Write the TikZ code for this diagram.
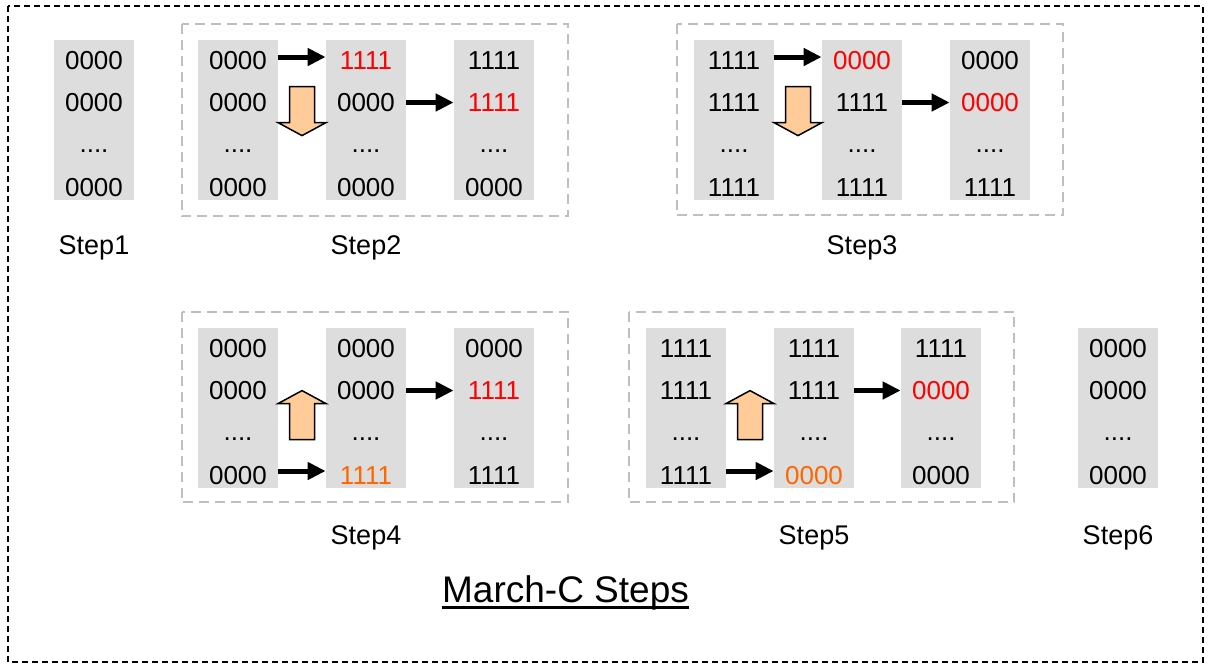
\documentclass[tikz,border=0pt]{standalone}
\usepackage{fontspec}
\setmainfont{Liberation Sans}
\usetikzlibrary{arrows.meta,calc}

\definecolor{cellgray}{HTML}{DDDDDD}
\definecolor{boxgray}{HTML}{BFBFBF}
\definecolor{arrowfill}{HTML}{FFCC99}
\definecolor{wred}{HTML}{FF0000}
\definecolor{worange}{HTML}{FF6600}

% one memory column: name, x, y, first row, second row, last row
\newcommand\memcol[6]{%
  \node[memcell] (#1) at (#2,#3) {};
  \node[celltext] (#1r1) at ($(#1)+(0,-59.5)$) {#4};
  \node[celltext] (#1r2) at ($(#1)+(0,-17.5)$) {#5};
  \node[celltext] (#1r3) at ($(#1)+(0,31)$) {....};
  \node[celltext] (#1r4) at ($(#1)+(0,68)$) {#6};
}
% hollow block arrows showing the address order
\newcommand\downblock[1]{%
  \draw[blockarrow] ($(#1)+(-12.5,0)$) -- ++(25,0) -- ++(0,36) -- ++(11.5,0)
    -- ($(#1)+(0,49)$) -- ($(#1)+(-24,36)$) -- ++(11.5,0) -- cycle;}
\newcommand\upblock[1]{%
  \draw[blockarrow] (#1) -- ++(24,13) -- ++(-11.5,0) -- ++(0,36) -- ++(-25,0)
    -- ++(0,-36) -- ++(-11.5,0) -- cycle;}

\begin{document}
\begin{tikzpicture}[x=0.5pt,y=-0.5pt,
  memcell/.style={fill=cellgray, minimum width=40pt, minimum height=80pt, inner sep=0pt},
  celltext/.style={inner sep=0pt, font=\fontsize{13}{15}\selectfont},
  steplabel/.style={inner sep=0pt, anchor=base, font=\fontsize{13.5}{16}\selectfont},
  groupbox/.style={draw=boxgray, line width=1pt, dash pattern=on 5pt off 3pt},
  wordarrow/.style={line width=2.5pt, -{Triangle[length=9pt,width=8.5pt]}},
  blockarrow/.style={draw=black, line width=0.75pt, fill=arrowfill, line join=miter}]

\path[use as bounding box] (0,0) rectangle (1208,665);
\draw[line width=0.75pt, dash pattern=on 3pt off 2pt] (8,6) rectangle (1203,662);

% Step 1
\memcol{s1}{94}{120}{0000}{0000}{0000}
\node[steplabel] (l1) at ($(s1.south)+(0,54)$) {Step1};

% Step 2
\memcol{s2a}{238}{120}{0000}{0000}{0000}
\memcol{s2b}{366}{120}{\textcolor{wred}{1111}}{0000}{0000}
\memcol{s2c}{494}{120}{1111}{\textcolor{wred}{1111}}{0000}
\draw[groupbox] ($(s2a.north west)+(-16,-16)$) rectangle ($(s2c.south east)+(34,16)$);
\draw[wordarrow] ($(s2a.east |- s2ar1)+(0,-3.5)$) -- ($(s2b.west |- s2ar1)+(0,-3.5)$);
\draw[wordarrow] (s2b.east |- s2br2) -- (s2c.west |- s2br2);
\coordinate (d2) at ($(s2a.north east)!0.5!(s2b.north west)+(0,47)$);
\downblock{d2}
\node[steplabel] (l2) at ($(s2b.south)+(0,54)$) {Step2};

% Step 3
\memcol{s3a}{734}{120}{1111}{1111}{1111}
\memcol{s3b}{862}{120}{\textcolor{wred}{0000}}{1111}{1111}
\memcol{s3c}{990}{120}{0000}{\textcolor{wred}{0000}}{1111}
\draw[groupbox] ($(s3a.north west)+(-17,-16)$) rectangle ($(s3c.south east)+(33,15)$);
\draw[wordarrow] ($(s3a.east |- s3ar1)+(0,-3.5)$) -- ($(s3b.west |- s3ar1)+(0,-3.5)$);
\draw[wordarrow] (s3b.east |- s3br2) -- (s3c.west |- s3br2);
\coordinate (d3) at ($(s3a.north east)!0.5!(s3b.north west)+(0,47)$);
\downblock{d3}
\node[steplabel] (l3) at ($(s3b.south)+(0,54)$) {Step3};

% Step 4
\memcol{s4a}{238}{408}{0000}{0000}{0000}
\memcol{s4b}{366}{408}{0000}{0000}{\textcolor{worange}{1111}}
\memcol{s4c}{494}{408}{0000}{\textcolor{wred}{1111}}{1111}
\draw[groupbox] ($(s4a.north west)+(-16,-16)$) rectangle ($(s4c.south east)+(34,14)$);
\draw[wordarrow] ($(s4a.east |- s4ar4)+(0,-5)$) -- ($(s4b.west |- s4ar4)+(0,-5)$);
\draw[wordarrow] (s4b.east |- s4br2) -- (s4c.west |- s4br2);
\coordinate (u4) at ($(s4a.north east)!0.5!(s4b.north west)+(0,63)$);
\upblock{u4}
\node[steplabel] (l4) at ($(s4b.south)+(0,56)$) {Step4};

% Step 5
\memcol{s5a}{686}{408}{1111}{1111}{1111}
\memcol{s5b}{814}{408}{1111}{1111}{\textcolor{worange}{0000}}
\memcol{s5c}{941}{408}{1111}{\textcolor{wred}{0000}}{0000}
\draw[groupbox] ($(s5a.north west)+(-17,-16)$) rectangle ($(s5c.south east)+(33,14)$);
\draw[wordarrow] ($(s5a.east |- s5ar4)+(0,-5)$) -- ($(s5b.west |- s5ar4)+(0,-5)$);
\draw[wordarrow] (s5b.east |- s5br2) -- (s5c.west |- s5br2);
\coordinate (u5) at ($(s5a.north east)!0.5!(s5b.north west)+(0,63)$);
\upblock{u5}
\node[steplabel] (l5) at ($(s5b.south)+(0,56)$) {Step5};

% Step 6
\memcol{s6}{1118}{408}{0000}{0000}{0000}
\node[steplabel] (l6) at ($(s6.south)+(0,56)$) {Step6};

% caption
\node[anchor=base, inner sep=0pt, font=\fontsize{18.5}{22}\selectfont] (title) at (565.5,602) {March-C Steps};
\draw[line width=1.5pt] ($(title.base west)+(0,5.5)$) -- ($(title.base east)+(0,5.5)$);
\end{tikzpicture}
\end{document}
